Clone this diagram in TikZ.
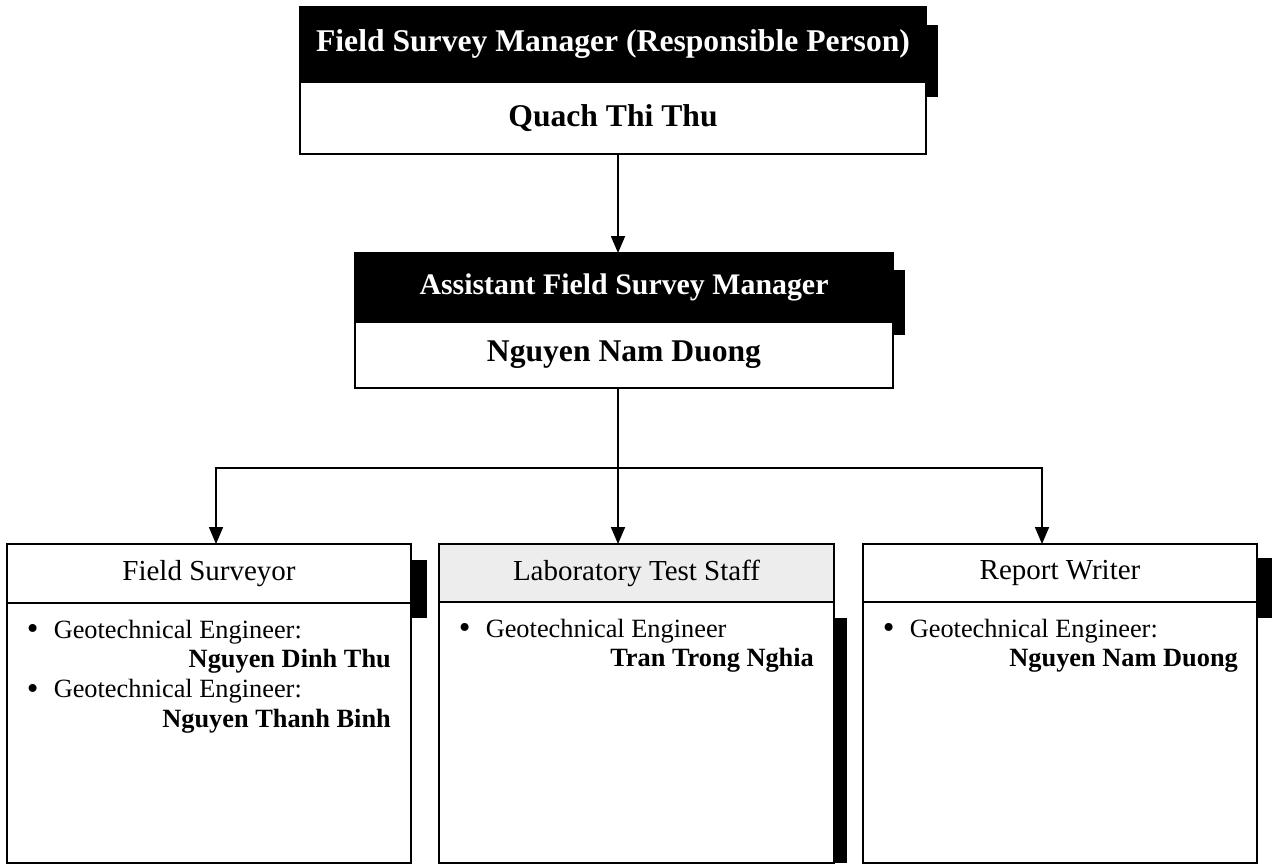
\documentclass[tikz,border=0pt]{standalone}
\usepackage{fontspec}
\setmainfont{Liberation Serif}
\usetikzlibrary{positioning,arrows.meta}

\newcommand{\pu}{0.02cm}
\newcommand{\roleitem}[1]{\makebox[15.3pt][l]{\raisebox{-1pt}{\fontsize{19}{17}\selectfont\textbullet}}#1}
\newcommand{\staffname}[1]{\hspace*{\fill}\textbf{#1}}

\tikzset{
  darkhead/.style={draw, fill=black, text=white, inner sep=0pt, outer sep=0pt,
    font=\fontsize{17}{20}\selectfont\bfseries},
  namebody/.style={draw, fill=white, inner sep=0pt, outer sep=0pt,
    font=\fontsize{18}{21}\selectfont\bfseries},
  rolehead/.style={draw, fill=white, inner sep=0pt, outer sep=0pt,
    font=\fontsize{16.5}{19}\selectfont},
  listbody/.style={draw, fill=white, inner sep=0pt, outer sep=0pt},
  listtext/.style={inner sep=0pt, anchor=base west, align=flush left,
    font=\fontsize{15}{17}\selectfont},
  link/.style={line width=1pt, -{Triangle[length=0.34cm, width=0.28cm]}},
}

\begin{document}
\begin{tikzpicture}[x=0.02cm, y=-0.02cm, line width=1pt]
  \useasboundingbox (0,0) rectangle (1273,865);

  % shadows
  \fill (926,25) rectangle (938,97);
  \fill (893,270) rectangle (905,335);
  \fill (411,560) rectangle (427,618);
  \fill (834,618) rectangle (847,863);
  \fill (1257,558) rectangle (1272,618);

  % manager
  \node[darkhead, font=\fontsize{18}{21}\selectfont\bfseries,
    minimum width=626*\pu, minimum height=75*\pu] (fsmHead) at (613,44.5)
    {Field Survey Manager (Responsible Person)};
  \node[namebody, minimum width=626*\pu, minimum height=72*\pu, below=0pt of fsmHead] (fsmName)
    {Quach Thi Thu};

  % assistant
  \node[darkhead, minimum width=538*\pu, minimum height=69*\pu] (asmHead) at (624,287.5)
    {Assistant Field Survey Manager};
  \node[namebody, minimum width=538*\pu, minimum height=66*\pu, below=0pt of asmHead] (asmName)
    {Nguyen Nam Duong};

  % staff
  \node[rolehead, minimum width=404*\pu, minimum height=59*\pu] (fsHead) at (209,573.5)
    {Field Surveyor};
  \node[listbody, minimum width=404*\pu, minimum height=260*\pu, below=0pt of fsHead] (fsBody) {};
  \node[rolehead, fill=black!7, minimum width=395*\pu, minimum height=58*\pu] (labHead) at (636.5,573)
    {Laboratory Test Staff};
  \node[listbody, minimum width=395*\pu, minimum height=261*\pu, below=0pt of labHead] (labBody) {};
  \node[rolehead, minimum width=394*\pu, minimum height=58*\pu] (rwHead) at (1060,573)
    {Report Writer};
  \node[listbody, minimum width=394*\pu, minimum height=261*\pu, below=0pt of rwHead] (rwBody) {};

  \node[listtext, text width=364*\pu] (fsText) at ([xshift=19*\pu, yshift=-35*\pu]fsBody.north west)
    {\roleitem{Geotechnical Engineer:}\\ \staffname{Nguyen Dinh Thu}\\
     \roleitem{Geotechnical Engineer:}\\ \staffname{Nguyen Thanh Binh}};
  \node[listtext, text width=355*\pu] (labText) at ([xshift=19*\pu, yshift=-35*\pu]labBody.north west)
    {\roleitem{Geotechnical Engineer}\\ \staffname{Tran Trong Nghia}};
  \node[listtext, text width=355*\pu] (rwText) at ([xshift=19*\pu, yshift=-35*\pu]rwBody.north west)
    {\roleitem{Geotechnical Engineer:}\\ \staffname{Nguyen Nam Duong}};

  % connectors
  \coordinate (spine) at (618,0);
  \coordinate (busL) at (216,468);
  \coordinate (busR) at (1042,468);
  \draw[link] (fsmName.south -| spine) -- (asmHead.north -| spine);
  \draw[link] (asmName.south -| spine) -- (labHead.north -| spine);
  \draw[link] (busR) -- (busL) -- (fsHead.north -| busL);
  \draw[link] (busL) -- (busR) -- (rwHead.north -| busR);
\end{tikzpicture}
\end{document}
